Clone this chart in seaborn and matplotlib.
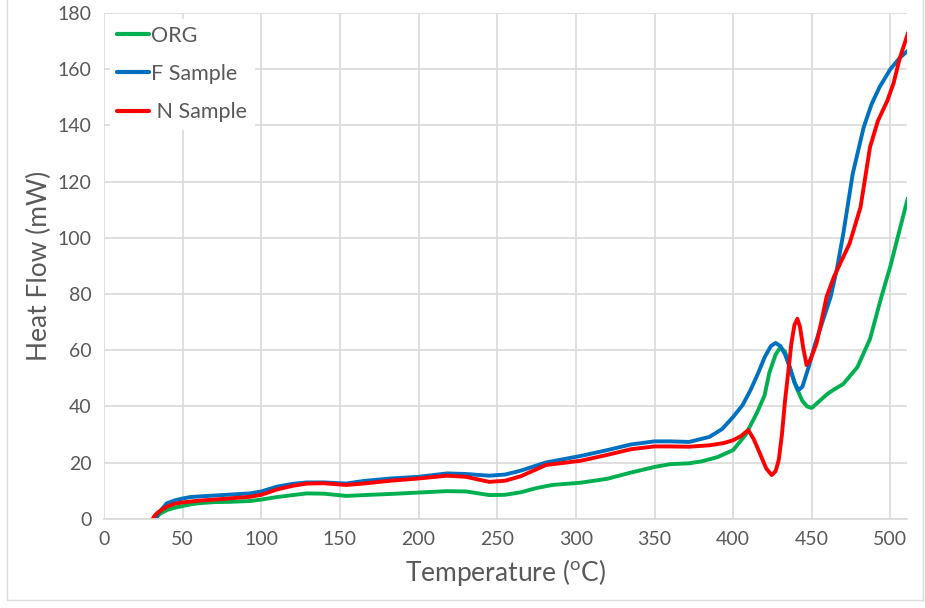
import matplotlib
matplotlib.use("Agg")
import matplotlib.pyplot as plt
import seaborn as sns
import pandas as pd
from matplotlib.patches import Rectangle

# ORG
org_t = [33, 34, 36, 40, 45, 50, 55, 60, 70, 80, 93, 100, 110, 120, 129, 140, 154,
         165, 182, 200, 218, 230, 245, 255, 265, 275, 285, 303, 320, 335, 350, 360,
         372, 380, 390, 400, 408, 415, 420, 423, 427, 430, 433, 437, 440, 444, 447,
         450, 455, 460, 464, 470, 479, 487, 494, 500, 505, 511]
org_h = [0, 1.0, 2.0, 3.2, 4.0, 4.6, 5.2, 5.6, 6.0, 6.1, 6.4, 6.9, 7.8, 8.5, 9.1, 9.0, 8.2,
         8.5, 8.9, 9.4, 9.9, 9.8, 8.5, 8.6, 9.5, 11.0, 12.1, 12.9, 14.3, 16.5, 18.5, 19.5,
         19.8, 20.5, 22.0, 24.5, 30.0, 37.6, 44.0, 52.0, 58.5, 61.0, 59.5, 52.0, 47.0, 42.0, 40.0,
         39.5, 42.0, 44.5, 46.0, 48.0, 54.0, 64.0, 78.5, 90.0, 101.0, 114.0]

# F Sample
f_t = [33, 34, 36, 40, 45, 50, 55, 60, 75, 93, 100, 110, 120, 129, 140, 154, 165,
       182, 200, 218, 230, 245, 255, 265, 281, 303, 320, 335, 350, 360, 372, 385,
       393, 400, 406, 411, 416, 420, 424, 427, 430, 433, 436, 439, 441.5, 444, 448,
       452, 457, 462, 466, 470, 476, 483, 488, 493, 500, 506, 511]
f_h = [0, 1.5, 3.0, 5.6, 6.6, 7.3, 7.8, 8.0, 8.5, 9.1, 9.8, 11.5, 12.5, 13.0, 13.0, 12.6, 13.5,
       14.4, 15.0, 16.2, 16.0, 15.4, 15.8, 17.2, 20.1, 22.4, 24.5, 26.5, 27.6, 27.6, 27.4, 29.2,
       32.0, 36.3, 40.5, 45.8, 52.0, 57.5, 61.5, 62.6, 61.5, 58.5, 54.0, 48.5, 45.8, 47.0, 54.0,
       62.0, 70.5, 79.0, 89.0, 101.4, 122.7, 139.3, 147.5, 153.5, 160.0, 164.0, 166.5]

# N Sample
n_t = [31, 32, 34, 37, 40, 45, 50, 55, 60, 75, 93, 100, 110, 120, 129, 140, 154, 165,
       182, 200, 218, 230, 245, 255, 265, 281, 303, 320, 335, 350, 360, 372, 385,
       394, 400, 405, 409.6, 413, 417, 421, 424.5, 427, 429, 431, 433, 435, 437, 439,
       440.8, 442.5, 444.5, 446.7, 449, 453, 456, 459.4, 464, 468, 474, 481, 487,
       492, 498, 502, 506, 511.3]
n_h = [0, 1.0, 2.2, 3.4, 4.4, 5.4, 5.9, 6.2, 6.5, 7.1, 7.9, 8.6, 10.5, 11.8, 12.6, 12.7, 12.1, 12.6,
       13.6, 14.4, 15.4, 15.0, 13.2, 13.6, 15.2, 19.2, 20.7, 22.8, 24.8, 25.8, 25.8, 25.7, 26.2,
       27.0, 28.0, 29.5, 31.6, 28.5, 23.3, 18.0, 15.6, 17.0, 21.0, 30.0, 42.2, 52.0, 62.4, 69.0,
       71.2, 68.3, 61.0, 54.7, 56.5, 62.4, 70.0, 79.0, 86.0, 90.8, 97.9, 110.9, 132.2,
       141.5, 148.7, 155.0, 164.0, 173.0]

series_names = ["ORG", "F Sample", " N Sample"]
series_colors = ["#00b050", "#0070c0", "#ff0000"]

df = pd.concat([
    pd.DataFrame({"T": org_t, "H": org_h, "s": series_names[0]}),
    pd.DataFrame({"T": f_t, "H": f_h, "s": series_names[1]}),
    pd.DataFrame({"T": n_t, "H": n_h, "s": series_names[2]}),
])

sns.set_style("white")
plt.rcParams["font.family"] = ["Lato", "DejaVu Sans"]
grey = "#595959"

fig = plt.figure(figsize=(9.25, 6.08), dpi=100)
ax = fig.add_axes([0.1124, 0.1464, 0.8681, 0.8326])

sns.lineplot(data=df, x="T", y="H", hue="s", palette=series_colors,
             hue_order=series_names, sort=False, estimator=None,
             linewidth=2.8, ax=ax)

ax.set_xlim(0, 510.5)
ax.set_ylim(0, 180)
ax.set_xticks(range(0, 501, 50))
ax.set_yticks(range(0, 181, 20))
ax.grid(True, color="#d9d9d9", linewidth=1.2)
ax.set_axisbelow(True)
for side in ["top", "right", "left"]:
    ax.spines[side].set_visible(False)
ax.spines["bottom"].set_color("#d9d9d9")
ax.spines["bottom"].set_linewidth(1.2)
ax.tick_params(axis="both", length=0, labelsize=14, colors=grey, pad=9)
ax.set_xlabel("Temperature ($^\\mathregular{o}$C)", fontsize=19, color=grey, labelpad=6)
ax.set_ylabel("Heat Flow (mW)", fontsize=19, color=grey, labelpad=4)

leg = ax.legend(loc="upper left", bbox_to_anchor=(0.0, 1.0), frameon=True,
                fontsize=15.5, handlelength=1.5, handletextpad=0.1,
                labelspacing=0.85, borderpad=0.3, borderaxespad=0.3)
leg.get_frame().set_facecolor("white")
leg.get_frame().set_edgecolor("white")
leg.get_frame().set_alpha(1)
leg.get_frame().set_boxstyle("square", pad=0)
for txt in leg.get_texts():
    txt.set_color(grey)
for line in leg.get_lines():
    line.set_linewidth(3)

fig.add_artist(Rectangle((0.008, 0.013), 0.99, 0.99, transform=fig.transFigure,
                         fill=False, edgecolor="#d9d9d9", linewidth=1))

fig.savefig("out.png", dpi=100)
